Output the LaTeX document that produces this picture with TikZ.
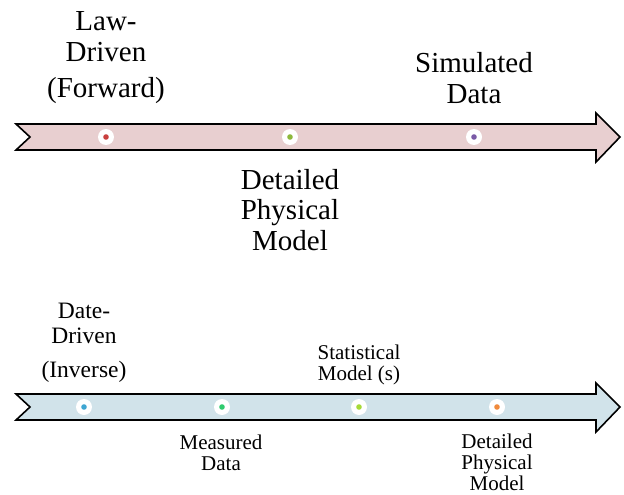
\documentclass[tikz,border=0pt]{standalone}
\usepackage{fontspec}
\setmainfont{Liberation Serif}
\definecolor{pinkfill}{HTML}{E8CFD0}
\definecolor{bluefill}{HTML}{D1E3EA}
\definecolor{dred}{HTML}{C9403E}
\definecolor{dgreen}{HTML}{8DB83C}
\definecolor{dpurple}{HTML}{7A5AA6}
\definecolor{dblue}{HTML}{3FA6D2}
\definecolor{dgreen2}{HTML}{2FCB6E}
\definecolor{dlime}{HTML}{A6DA38}
\definecolor{dorange}{HTML}{F08A3C}
\begin{document}
\begin{tikzpicture}[x=1pt,y=-1pt,
  arrowshape/.style={draw=black,line width=1.6pt,line join=miter},
  halo/.style={circle,fill=white,minimum size=16pt,inner sep=0pt},
  bigtxt/.style={align=center,anchor=base,inner sep=0pt,font=\fontsize{29}{30.5}\selectfont},
  midtxt/.style={align=center,anchor=base,inner sep=0pt,font=\fontsize{23.5}{25}\selectfont},
  smalltxt/.style={align=center,anchor=base,inner sep=0pt,font=\fontsize{21}{21}\selectfont}]
\useasboundingbox (0,0) rectangle (624,495);
% top arrow
\filldraw[arrowshape,fill=pinkfill] (16,124) -- (596,124) -- (596,113) -- (620,137) -- (596,162) -- (596,150) -- (16,150) -- (30,137) -- cycle;
% bottom arrow
\filldraw[arrowshape,fill=bluefill] (16,394) -- (596,394) -- (596,383) -- (620,407) -- (596,432) -- (596,420) -- (16,420) -- (30,407) -- cycle;
% top dots
\node[halo] (t1) at (106,137) {};
\node[halo] (t2) at (290,137) {};
\node[halo] (t3) at (474,137) {};
\fill[dred] (t1) circle (2.8);
\fill[dgreen] (t2) circle (2.8);
\fill[dpurple] (t3) circle (2.8);
% bottom dots
\node[halo] (b1) at (84,407) {};
\node[halo] (b2) at (222,407) {};
\node[halo] (b3) at (359,407) {};
\node[halo] (b4) at (497,407) {};
\fill[dblue] (b1) circle (2.8);
\fill[dgreen2] (b2) circle (2.8);
\fill[dlime] (b3) circle (2.8);
\fill[dorange] (b4) circle (2.8);
% top labels
\node[bigtxt] (law) at (106,98) {Law-\\Driven\\[6pt](Forward)};
\node[bigtxt] (sim) at (474,103) {Simulated\\Data};
\node[bigtxt] (det) at (290,250) {Detailed\\Physical\\Model};
% bottom labels
\node[midtxt] (date) at (84,377) {Date-\\Driven\\[9pt](Inverse)};
\node[smalltxt] (stat) at (359,380) {Statistical\\Model (s)};
\node[smalltxt] (meas) at (221,470) {Measured\\Data};
\node[smalltxt] (det2) at (497,490) {Detailed\\Physical\\Model};
\end{tikzpicture}
\end{document}
